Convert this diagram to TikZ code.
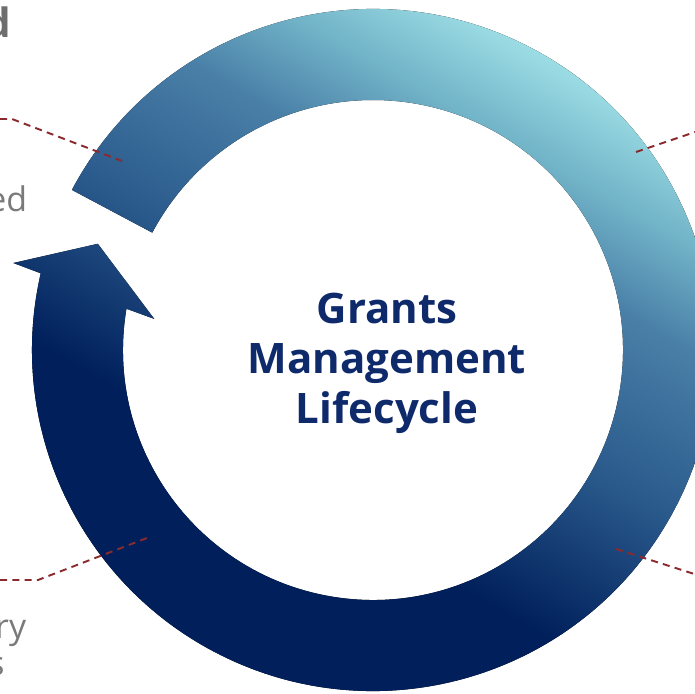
\documentclass[tikz,border=0pt]{standalone}
\usepackage{fontspec}
\setmainfont{Open Sans}
\definecolor{ringnavy}{HTML}{001F5B}
\definecolor{ringmid}{HTML}{2A5A8C}
\definecolor{ringsteel}{HTML}{4A80A8}
\definecolor{ringlight}{HTML}{72B4C8}
\definecolor{ringcyan}{HTML}{A4E5EA}
\definecolor{titlenavy}{HTML}{0E2A6B}
\definecolor{leaderred}{HTML}{8B2A2E}
\definecolor{sidegray}{HTML}{7A7A7A}
\pgfdeclarehorizontalshading{ringshade}{100bp}{color(0bp)=(ringnavy); color(39bp)=(ringnavy); color(50bp)=(ringmid); color(60bp)=(ringsteel); color(66bp)=(ringlight); color(73bp)=(ringcyan); color(100bp)=(ringcyan)}
\tikzset{
  leader/.style={draw=leaderred, line width=1.1pt, dash pattern=on 4pt off 3pt},
  sidetext/.style={text=sidegray, inner sep=0pt, font=\fontsize{19.3}{23}\selectfont},
}
\begin{document}
\begin{tikzpicture}[x=0.02cm,y=0.02cm]
  \useasboundingbox (0,0) rectangle (695,693);
  \clip (0,0) rectangle (695,693);
  % ring arrow
  \begin{scope}[shift={(373,343)}]
    \fill[shading=ringshade, shading angle=60] (152:341) arc[start angle=152, end angle=-193, radius=341] -- (166.4:370) -- (158.9:295) -- (171.9:221) -- (-189.5:250) arc[start angle=-189.5, end angle=152, radius=250] -- cycle;
  \end{scope}
  \node[align=center, text=titlenavy, font=\fontsize{23.9}{28.45}\selectfont\bfseries] (title) at (387,330) {Grants\\Management\\Lifecycle};
  % side labels, cut by the frame
  \node[sidetext, anchor=base east, font=\fontsize{23}{27}\selectfont\bfseries, text=sidegray!90!black] (head) at (11,655) {d};
  \node[sidetext, anchor=base east] (upper) at (27.5,481) {ed};
  \node[sidetext, anchor=base east] (lower) at (26.5,55) {ry};
  \node[sidetext, anchor=base east] (lowertail) at (5,18) {s};
  % leaders
  \coordinate (tl0) at (0,574); \coordinate (tl1) at (12,574); \coordinate (tl2) at (122,532);
  \coordinate (tr0) at (636,541); \coordinate (tr1) at (710,566);
  \coordinate (bl0) at (0,113); \coordinate (bl1) at (38,113); \coordinate (bl2) at (147,155);
  \coordinate (br0) at (616,144); \coordinate (br1) at (710,114);
  \draw[leader] (tl0) -- (tl1) -- (tl2);
  \draw[leader] (tr0) -- (tr1);
  \draw[leader] (bl0) -- (bl1) -- (bl2);
  \draw[leader] (br0) -- (br1);
\end{tikzpicture}
\end{document}
